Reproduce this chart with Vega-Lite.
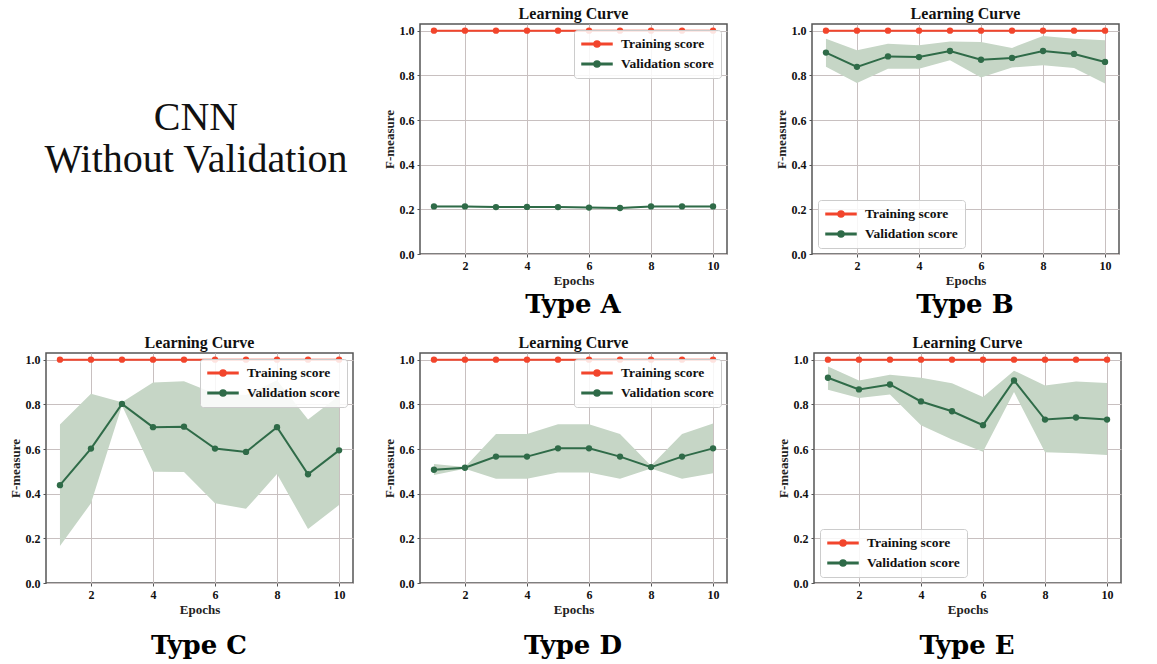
{
"$schema": "https://vega.github.io/schema/vega-lite/v6.json",
"background": "white",
"padding": {"left": 8, "top": 5, "right": 0, "bottom": 0},
"config": {
  "font": "Liberation Serif",
  "view": {"stroke": "#555555", "strokeWidth": 1.5},
  "title": {"font": "Liberation Serif", "fontSize": 16, "fontWeight": "bold", "color": "#111111", "offset": 2},
  "axis": {"labelFont": "Liberation Serif", "labelFontSize": 12, "labelFontWeight": "bold", "labelColor": "#111111", "titleFont": "Liberation Serif", "titleFontSize": 13, "titleFontWeight": "bold", "titleColor": "#222222", "domain": false, "tickSize": 3, "tickColor": "#555555", "gridColor": "#c8c0c0", "gridWidth": 1, "labelPadding": 3, "titlePadding": 3},
  "legend": {"title": null, "symbolType": "M-1,-0.13H4V0.13H-1Z M2,0A0.5,0.5 0 1 1 1,0A0.5,0.5 0 1 1 2,0Z", "symbolSize": 144, "labelOffset": 26, "labelFont": "Liberation Serif", "labelFontWeight": "bold", "labelFontSize": 13.5, "labelColor": "#111111", "fillColor": "rgba(255,255,255,0.85)", "strokeColor": "#cccccc", "padding": 7, "cornerRadius": 3, "rowPadding": 6, "offset": 6}
},
"datasets": {
  "A": [
    {"epoch": 1, "series": "Training score", "score": 1.0}, {"epoch": 2, "series": "Training score", "score": 1.0}, {"epoch": 3, "series": "Training score", "score": 1.0}, {"epoch": 4, "series": "Training score", "score": 1.0}, {"epoch": 5, "series": "Training score", "score": 1.0}, {"epoch": 6, "series": "Training score", "score": 1.0}, {"epoch": 7, "series": "Training score", "score": 1.0}, {"epoch": 8, "series": "Training score", "score": 1.0}, {"epoch": 9, "series": "Training score", "score": 1.0}, {"epoch": 10, "series": "Training score", "score": 1.0},
    {"epoch": 1, "series": "Validation score", "score": 0.213, "lo": 0.210, "hi": 0.216}, {"epoch": 2, "series": "Validation score", "score": 0.213, "lo": 0.210, "hi": 0.216}, {"epoch": 3, "series": "Validation score", "score": 0.210, "lo": 0.207, "hi": 0.213}, {"epoch": 4, "series": "Validation score", "score": 0.211, "lo": 0.208, "hi": 0.214}, {"epoch": 5, "series": "Validation score", "score": 0.210, "lo": 0.207, "hi": 0.213}, {"epoch": 6, "series": "Validation score", "score": 0.208, "lo": 0.205, "hi": 0.211}, {"epoch": 7, "series": "Validation score", "score": 0.206, "lo": 0.203, "hi": 0.209}, {"epoch": 8, "series": "Validation score", "score": 0.213, "lo": 0.210, "hi": 0.216}, {"epoch": 9, "series": "Validation score", "score": 0.213, "lo": 0.210, "hi": 0.216}, {"epoch": 10, "series": "Validation score", "score": 0.213, "lo": 0.210, "hi": 0.216}
  ],
  "B": [
    {"epoch": 1, "series": "Training score", "score": 1.0}, {"epoch": 2, "series": "Training score", "score": 1.0}, {"epoch": 3, "series": "Training score", "score": 1.0}, {"epoch": 4, "series": "Training score", "score": 1.0}, {"epoch": 5, "series": "Training score", "score": 1.0}, {"epoch": 6, "series": "Training score", "score": 1.0}, {"epoch": 7, "series": "Training score", "score": 1.0}, {"epoch": 8, "series": "Training score", "score": 1.0}, {"epoch": 9, "series": "Training score", "score": 1.0}, {"epoch": 10, "series": "Training score", "score": 1.0},
    {"epoch": 1, "series": "Validation score", "score": 0.902, "lo": 0.838, "hi": 0.964}, {"epoch": 2, "series": "Validation score", "score": 0.838, "lo": 0.766, "hi": 0.912}, {"epoch": 3, "series": "Validation score", "score": 0.885, "lo": 0.830, "hi": 0.942}, {"epoch": 4, "series": "Validation score", "score": 0.882, "lo": 0.830, "hi": 0.935}, {"epoch": 5, "series": "Validation score", "score": 0.909, "lo": 0.868, "hi": 0.952}, {"epoch": 6, "series": "Validation score", "score": 0.870, "lo": 0.790, "hi": 0.949}, {"epoch": 7, "series": "Validation score", "score": 0.878, "lo": 0.835, "hi": 0.923}, {"epoch": 8, "series": "Validation score", "score": 0.909, "lo": 0.845, "hi": 0.976}, {"epoch": 9, "series": "Validation score", "score": 0.896, "lo": 0.833, "hi": 0.964}, {"epoch": 10, "series": "Validation score", "score": 0.860, "lo": 0.763, "hi": 0.957}
  ],
  "C": [
    {"epoch": 1, "series": "Training score", "score": 1.0}, {"epoch": 2, "series": "Training score", "score": 1.0}, {"epoch": 3, "series": "Training score", "score": 1.0}, {"epoch": 4, "series": "Training score", "score": 1.0}, {"epoch": 5, "series": "Training score", "score": 1.0}, {"epoch": 6, "series": "Training score", "score": 1.0}, {"epoch": 7, "series": "Training score", "score": 1.0}, {"epoch": 8, "series": "Training score", "score": 1.0}, {"epoch": 9, "series": "Training score", "score": 1.0}, {"epoch": 10, "series": "Training score", "score": 1.0},
    {"epoch": 1, "series": "Validation score", "score": 0.438, "lo": 0.166, "hi": 0.710}, {"epoch": 2, "series": "Validation score", "score": 0.602, "lo": 0.357, "hi": 0.847}, {"epoch": 3, "series": "Validation score", "score": 0.802, "lo": 0.795, "hi": 0.810}, {"epoch": 4, "series": "Validation score", "score": 0.698, "lo": 0.498, "hi": 0.898}, {"epoch": 5, "series": "Validation score", "score": 0.700, "lo": 0.497, "hi": 0.903}, {"epoch": 6, "series": "Validation score", "score": 0.602, "lo": 0.357, "hi": 0.847}, {"epoch": 7, "series": "Validation score", "score": 0.587, "lo": 0.332, "hi": 0.842}, {"epoch": 8, "series": "Validation score", "score": 0.698, "lo": 0.488, "hi": 0.908}, {"epoch": 9, "series": "Validation score", "score": 0.487, "lo": 0.242, "hi": 0.732}, {"epoch": 10, "series": "Validation score", "score": 0.594, "lo": 0.349, "hi": 0.839}
  ],
  "D": [
    {"epoch": 1, "series": "Training score", "score": 1.0}, {"epoch": 2, "series": "Training score", "score": 1.0}, {"epoch": 3, "series": "Training score", "score": 1.0}, {"epoch": 4, "series": "Training score", "score": 1.0}, {"epoch": 5, "series": "Training score", "score": 1.0}, {"epoch": 6, "series": "Training score", "score": 1.0}, {"epoch": 7, "series": "Training score", "score": 1.0}, {"epoch": 8, "series": "Training score", "score": 1.0}, {"epoch": 9, "series": "Training score", "score": 1.0}, {"epoch": 10, "series": "Training score", "score": 1.0},
    {"epoch": 1, "series": "Validation score", "score": 0.507, "lo": 0.484, "hi": 0.533}, {"epoch": 2, "series": "Validation score", "score": 0.516, "lo": 0.512, "hi": 0.519}, {"epoch": 3, "series": "Validation score", "score": 0.566, "lo": 0.467, "hi": 0.667}, {"epoch": 4, "series": "Validation score", "score": 0.566, "lo": 0.467, "hi": 0.667}, {"epoch": 5, "series": "Validation score", "score": 0.603, "lo": 0.495, "hi": 0.711}, {"epoch": 6, "series": "Validation score", "score": 0.603, "lo": 0.495, "hi": 0.711}, {"epoch": 7, "series": "Validation score", "score": 0.566, "lo": 0.467, "hi": 0.667}, {"epoch": 8, "series": "Validation score", "score": 0.519, "lo": 0.513, "hi": 0.525}, {"epoch": 9, "series": "Validation score", "score": 0.566, "lo": 0.467, "hi": 0.667}, {"epoch": 10, "series": "Validation score", "score": 0.603, "lo": 0.492, "hi": 0.714}
  ],
  "E": [
    {"epoch": 1, "series": "Training score", "score": 1.0}, {"epoch": 2, "series": "Training score", "score": 1.0}, {"epoch": 3, "series": "Training score", "score": 1.0}, {"epoch": 4, "series": "Training score", "score": 1.0}, {"epoch": 5, "series": "Training score", "score": 1.0}, {"epoch": 6, "series": "Training score", "score": 1.0}, {"epoch": 7, "series": "Training score", "score": 1.0}, {"epoch": 8, "series": "Training score", "score": 1.0}, {"epoch": 9, "series": "Training score", "score": 1.0}, {"epoch": 10, "series": "Training score", "score": 1.0},
    {"epoch": 1, "series": "Validation score", "score": 0.919, "lo": 0.865, "hi": 0.970}, {"epoch": 2, "series": "Validation score", "score": 0.867, "lo": 0.828, "hi": 0.907}, {"epoch": 3, "series": "Validation score", "score": 0.889, "lo": 0.844, "hi": 0.933}, {"epoch": 4, "series": "Validation score", "score": 0.813, "lo": 0.707, "hi": 0.919}, {"epoch": 5, "series": "Validation score", "score": 0.769, "lo": 0.643, "hi": 0.895}, {"epoch": 6, "series": "Validation score", "score": 0.707, "lo": 0.588, "hi": 0.833}, {"epoch": 7, "series": "Validation score", "score": 0.907, "lo": 0.855, "hi": 0.951}, {"epoch": 8, "series": "Validation score", "score": 0.732, "lo": 0.585, "hi": 0.884}, {"epoch": 9, "series": "Validation score", "score": 0.741, "lo": 0.581, "hi": 0.902}, {"epoch": 10, "series": "Validation score", "score": 0.732, "lo": 0.573, "hi": 0.896}
  ]
},
"resolve": {"scale": {"color": "independent"}, "legend": {"color": "independent"}},
"spacing": 16,
"vconcat": [
  {
    "resolve": {"scale": {"color": "independent"}, "legend": {"color": "independent"}},
    "spacing": 46,
    "hconcat": [
      {
        "resolve": {"scale": {"color": "independent"}, "legend": {"color": "independent"}},
        "spacing": 34,
        "hconcat": [
          {
            "width": 300, "height": 230,
            "view": {"stroke": null},
            "data": {"values": [{"line": "CNN", "row": 1}, {"line": "Without Validation", "row": 2}]},
            "mark": {"type": "text", "font": "Liberation Serif", "fontSize": 40, "baseline": "alphabetic", "align": "center", "color": "#111111"},
            "encoding": {
              "y": {"field": "row", "type": "quantitative", "scale": {"domain": [3.95, -1.52], "zero": false, "nice": false}, "axis": null},
              "text": {"field": "line"}
            }
          },
          {
            "title": {"text": "Type A", "orient": "bottom", "anchor": "middle", "dx": 18, "offset": 4, "font": "DejaVu Serif", "fontSize": 26, "fontWeight": "bold", "color": "#000000"},
            "resolve": {"scale": {"color": "independent"}, "legend": {"color": "independent"}},
            "vconcat": [{
              "width": 307, "height": 230,
              "title": {"text": "Learning Curve"},
              "data": {"name": "A"},
              "encoding": {
                "x": {"field": "epoch", "type": "quantitative", "scale": {"domain": [0.55, 10.45], "nice": false, "zero": false}, "axis": {"values": [2, 4, 6, 8, 10], "format": "d", "title": "Epochs"}},
                "y": {"field": "score", "type": "quantitative", "scale": {"domain": [0, 1.03], "nice": false}, "axis": {"values": [0, 0.2, 0.4, 0.6, 0.8, 1.0], "format": ".1f", "title": "F-measure"}},
                "color": {"field": "series", "type": "nominal", "scale": {"domain": ["Training score", "Validation score"], "range": ["#f2452c", "#2f6b48"]}, "legend": {"orient": "top-right", "encode": {"symbols": {"update": {"fill": {"signal": "datum.value === 'Training score' ? '#f2452c' : '#2f6b48'"}, "stroke": {"value": "transparent"}}}}}}
              },
              "layer": [
                {"transform": [{"filter": "datum.series === 'Validation score'"}], "mark": {"type": "area"}, "encoding": {"y": {"field": "lo", "type": "quantitative"}, "y2": {"field": "hi"}, "color": {"value": "#c6d6c6"}}},
                {"mark": {"type": "line", "strokeWidth": 2}},
                {"mark": {"type": "point", "filled": true, "size": 40, "opacity": 1}}
              ]
            }]
          }
        ]
      },
      {
        "title": {"text": "Type B", "orient": "bottom", "anchor": "middle", "dx": 18, "offset": 4, "font": "DejaVu Serif", "fontSize": 26, "fontWeight": "bold", "color": "#000000"},
        "resolve": {"scale": {"color": "independent"}, "legend": {"color": "independent"}},
        "vconcat": [{
          "width": 307, "height": 230,
          "title": {"text": "Learning Curve"},
          "data": {"name": "B"},
          "encoding": {
            "x": {"field": "epoch", "type": "quantitative", "scale": {"domain": [0.55, 10.45], "nice": false, "zero": false}, "axis": {"values": [2, 4, 6, 8, 10], "format": "d", "title": "Epochs"}},
            "y": {"field": "score", "type": "quantitative", "scale": {"domain": [0, 1.03], "nice": false}, "axis": {"values": [0, 0.2, 0.4, 0.6, 0.8, 1.0], "format": ".1f", "title": "F-measure"}},
            "color": {"field": "series", "type": "nominal", "scale": {"domain": ["Training score", "Validation score"], "range": ["#f2452c", "#2f6b48"]}, "legend": {"orient": "bottom-left", "encode": {"symbols": {"update": {"fill": {"signal": "datum.value === 'Training score' ? '#f2452c' : '#2f6b48'"}, "stroke": {"value": "transparent"}}}}}}
          },
          "layer": [
            {"transform": [{"filter": "datum.series === 'Validation score'"}], "mark": {"type": "area"}, "encoding": {"y": {"field": "lo", "type": "quantitative"}, "y2": {"field": "hi"}, "color": {"value": "#c6d6c6"}}},
            {"mark": {"type": "line", "strokeWidth": 2}},
            {"mark": {"type": "point", "filled": true, "size": 40, "opacity": 1}}
          ]
        }]
      }
    ]
  },
  {
    "resolve": {"scale": {"color": "independent"}, "legend": {"color": "independent"}},
    "spacing": 48,
    "hconcat": [
      {
        "resolve": {"scale": {"color": "independent"}, "legend": {"color": "independent"}},
        "spacing": 28,
        "hconcat": [
          {
            "title": {"text": "Type C", "orient": "bottom", "anchor": "middle", "dx": 18, "offset": 16, "font": "DejaVu Serif", "fontSize": 26, "fontWeight": "bold", "color": "#000000"},
            "resolve": {"scale": {"color": "independent"}, "legend": {"color": "independent"}},
            "vconcat": [{
              "width": 307, "height": 230,
              "title": {"text": "Learning Curve"},
              "data": {"name": "C"},
              "encoding": {
                "x": {"field": "epoch", "type": "quantitative", "scale": {"domain": [0.55, 10.45], "nice": false, "zero": false}, "axis": {"values": [2, 4, 6, 8, 10], "format": "d", "title": "Epochs"}},
                "y": {"field": "score", "type": "quantitative", "scale": {"domain": [0, 1.03], "nice": false}, "axis": {"values": [0, 0.2, 0.4, 0.6, 0.8, 1.0], "format": ".1f", "title": "F-measure"}},
                "color": {"field": "series", "type": "nominal", "scale": {"domain": ["Training score", "Validation score"], "range": ["#f2452c", "#2f6b48"]}, "legend": {"orient": "top-right", "encode": {"symbols": {"update": {"fill": {"signal": "datum.value === 'Training score' ? '#f2452c' : '#2f6b48'"}, "stroke": {"value": "transparent"}}}}}}
              },
              "layer": [
                {"transform": [{"filter": "datum.series === 'Validation score'"}], "mark": {"type": "area"}, "encoding": {"y": {"field": "lo", "type": "quantitative"}, "y2": {"field": "hi"}, "color": {"value": "#c6d6c6"}}},
                {"mark": {"type": "line", "strokeWidth": 2}},
                {"mark": {"type": "point", "filled": true, "size": 40, "opacity": 1}}
              ]
            }]
          },
          {
            "title": {"text": "Type D", "orient": "bottom", "anchor": "middle", "dx": 18, "offset": 16, "font": "DejaVu Serif", "fontSize": 26, "fontWeight": "bold", "color": "#000000"},
            "resolve": {"scale": {"color": "independent"}, "legend": {"color": "independent"}},
            "vconcat": [{
              "width": 307, "height": 230,
              "title": {"text": "Learning Curve"},
              "data": {"name": "D"},
              "encoding": {
                "x": {"field": "epoch", "type": "quantitative", "scale": {"domain": [0.55, 10.45], "nice": false, "zero": false}, "axis": {"values": [2, 4, 6, 8, 10], "format": "d", "title": "Epochs"}},
                "y": {"field": "score", "type": "quantitative", "scale": {"domain": [0, 1.03], "nice": false}, "axis": {"values": [0, 0.2, 0.4, 0.6, 0.8, 1.0], "format": ".1f", "title": "F-measure"}},
                "color": {"field": "series", "type": "nominal", "scale": {"domain": ["Training score", "Validation score"], "range": ["#f2452c", "#2f6b48"]}, "legend": {"orient": "top-right", "encode": {"symbols": {"update": {"fill": {"signal": "datum.value === 'Training score' ? '#f2452c' : '#2f6b48'"}, "stroke": {"value": "transparent"}}}}}}
              },
              "layer": [
                {"transform": [{"filter": "datum.series === 'Validation score'"}], "mark": {"type": "area"}, "encoding": {"y": {"field": "lo", "type": "quantitative"}, "y2": {"field": "hi"}, "color": {"value": "#c6d6c6"}}},
                {"mark": {"type": "line", "strokeWidth": 2}},
                {"mark": {"type": "point", "filled": true, "size": 40, "opacity": 1}}
              ]
            }]
          }
        ]
      },
      {
        "title": {"text": "Type E", "orient": "bottom", "anchor": "middle", "dx": 18, "offset": 16, "font": "DejaVu Serif", "fontSize": 26, "fontWeight": "bold", "color": "#000000"},
        "resolve": {"scale": {"color": "independent"}, "legend": {"color": "independent"}},
        "vconcat": [{
          "width": 307, "height": 230,
          "title": {"text": "Learning Curve"},
          "data": {"name": "E"},
          "encoding": {
            "x": {"field": "epoch", "type": "quantitative", "scale": {"domain": [0.55, 10.45], "nice": false, "zero": false}, "axis": {"values": [2, 4, 6, 8, 10], "format": "d", "title": "Epochs"}},
            "y": {"field": "score", "type": "quantitative", "scale": {"domain": [0, 1.03], "nice": false}, "axis": {"values": [0, 0.2, 0.4, 0.6, 0.8, 1.0], "format": ".1f", "title": "F-measure"}},
            "color": {"field": "series", "type": "nominal", "scale": {"domain": ["Training score", "Validation score"], "range": ["#f2452c", "#2f6b48"]}, "legend": {"orient": "bottom-left", "encode": {"symbols": {"update": {"fill": {"signal": "datum.value === 'Training score' ? '#f2452c' : '#2f6b48'"}, "stroke": {"value": "transparent"}}}}}}
          },
          "layer": [
            {"transform": [{"filter": "datum.series === 'Validation score'"}], "mark": {"type": "area"}, "encoding": {"y": {"field": "lo", "type": "quantitative"}, "y2": {"field": "hi"}, "color": {"value": "#c6d6c6"}}},
            {"mark": {"type": "line", "strokeWidth": 2}},
            {"mark": {"type": "point", "filled": true, "size": 40, "opacity": 1}}
          ]
        }]
      }
    ]
  }
]
}
